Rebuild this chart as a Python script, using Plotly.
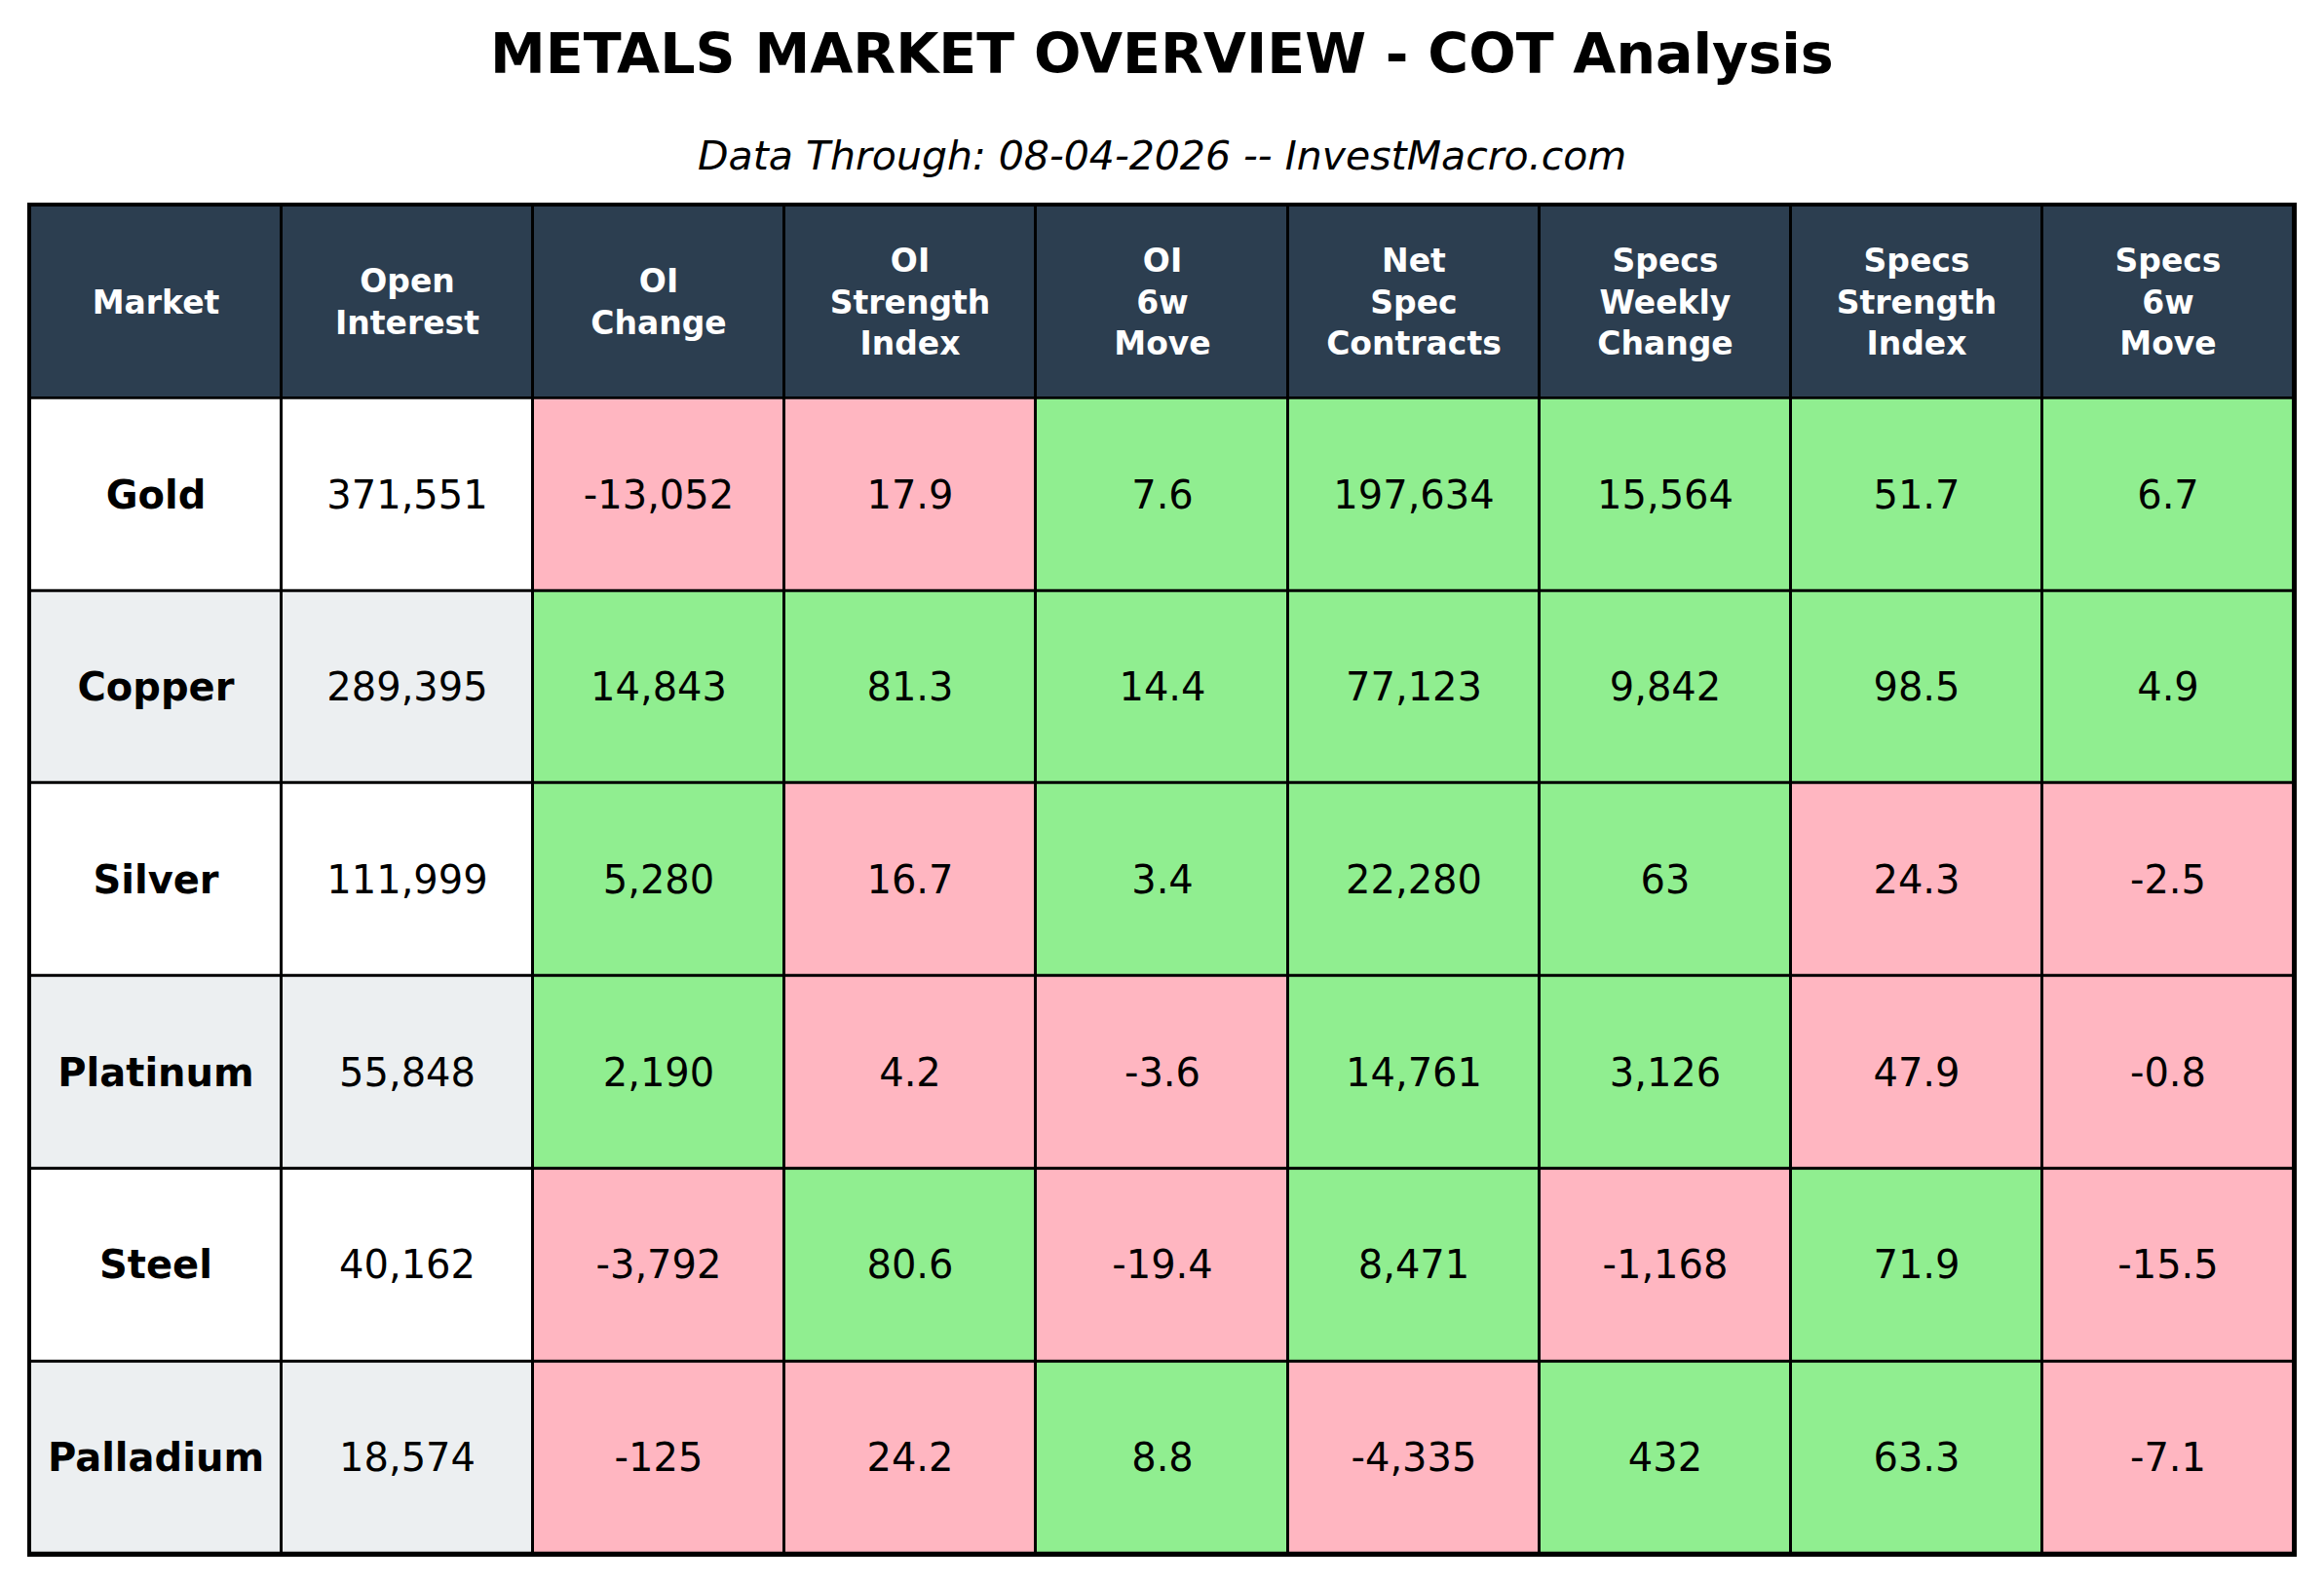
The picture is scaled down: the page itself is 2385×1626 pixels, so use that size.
import plotly.graph_objects as go

headers = ["Market", "Open<br>Interest", "OI<br>Change", "OI<br>Strength<br>Index", "OI<br>6w<br>Move",
           "Net<br>Spec<br>Contracts", "Specs<br>Weekly<br>Change", "Specs<br>Strength<br>Index", "Specs<br>6w<br>Move"]
markets = ["Gold", "Copper", "Silver", "Platinum", "Steel", "Palladium"]
open_interest = [371551, 289395, 111999, 55848, 40162, 18574]
oi_change = [-13052, 14843, 5280, 2190, -3792, -125]
oi_strength = [17.9, 81.3, 16.7, 4.2, 80.6, 24.2]
oi_6w = [7.6, 14.4, 3.4, -3.6, -19.4, 8.8]
net_spec = [197634, 77123, 22280, 14761, 8471, -4335]
spec_weekly = [15564, 9842, 63, 3126, -1168, 432]
spec_strength = [51.7, 98.5, 24.3, 47.9, 71.9, 63.3]
spec_6w = [6.7, 4.9, -2.5, -0.8, -15.5, -7.1]

cscale = [[0.0, "#FFFFFF"], [0.125, "#FFFFFF"], [0.125, "#ECEFF1"], [0.375, "#ECEFF1"],
          [0.375, "#90EE90"], [0.625, "#90EE90"], [0.625, "#FFB6C1"], [0.875, "#FFB6C1"],
          [0.875, "#2C3E50"], [1.0, "#2C3E50"]]

def sign_code(v): return [2 if x > 0 else 3 for x in v]
def str_code(v): return [2 if x >= 50 else 3 for x in v]
ints = lambda v: [f"{x:,}" for x in v]
flt = lambda v: [f"{x:.1f}" for x in v]

n = len(markets)
base = [i % 2 for i in range(n)]
cols_text = [[f"<b>{m}</b>" for m in markets], ints(open_interest), ints(oi_change), flt(oi_strength),
             flt(oi_6w), ints(net_spec), ints(spec_weekly), flt(spec_strength), flt(spec_6w)]
cols_code = [base, base, sign_code(oi_change), str_code(oi_strength), sign_code(oi_6w),
             sign_code(net_spec), sign_code(spec_weekly), str_code(spec_strength), sign_code(spec_6w)]

xs = list(range(len(headers)))
ys = list(range(1, n + 1))
z_body = [[cols_code[c][r] for c in xs] for r in range(n)]
t_body = [[cols_text[c][r] for c in xs] for r in range(n)]

common = dict(colorscale=cscale, zmin=0, zmax=4, showscale=False, xgap=3, ygap=3,
              texttemplate="%{text}", hoverinfo="skip")
fig = go.Figure()
fig.add_trace(go.Heatmap(x=xs, y=[0], z=[[4]*len(xs)], text=[[f"<b>{h}</b>" for h in headers]],
                         textfont=dict(color="white", size=33, family="DejaVu Sans"), **common))
fig.add_trace(go.Heatmap(x=xs, y=ys, z=z_body, text=t_body,
                         textfont=dict(color="black", size=40, family="DejaVu Sans"), **common))

fig.update_xaxes(visible=True, showticklabels=False, showgrid=False, zeroline=False, ticks="",
                 showline=True, mirror=True, linecolor="black", linewidth=3, range=[-0.5, 8.5])
fig.update_yaxes(visible=True, showticklabels=False, showgrid=False, zeroline=False, ticks="",
                 showline=True, mirror=True, linecolor="black", linewidth=3, range=[n + 0.5, -0.5])
T, B = 203, 39
H = 1626 - T - B
fig.update_layout(
    width=2385, height=1626, margin=dict(l=23, r=39, t=T, b=B),
    paper_bgcolor="white", plot_bgcolor="black",
    annotations=[
        dict(text="<b>METALS MARKET OVERVIEW - COT Analysis</b>", x=0.5, y=1+(T-47)/H, xref="paper", yref="paper",
             showarrow=False, font=dict(size=57, family="DejaVu Sans", color="black"), yanchor="middle"),
        dict(text="<i>Data Through: 08-04-2026 -- InvestMacro.com</i>", x=0.5, y=1+(T-152)/H, xref="paper", yref="paper",
             showarrow=False, font=dict(size=41, family="DejaVu Sans", color="black"), yanchor="middle"),
    ],
)
fig.write_html("out.html")
